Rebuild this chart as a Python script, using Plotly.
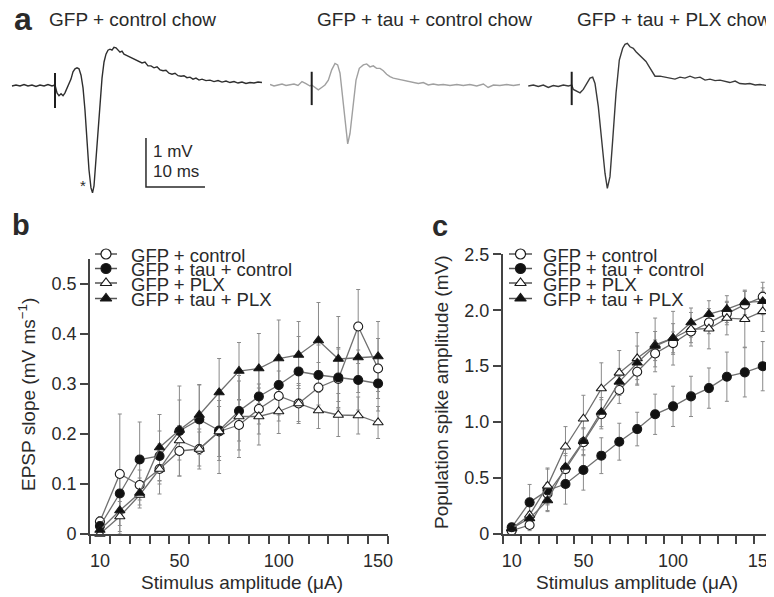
import plotly.graph_objects as go

# page is photographed with the browser's default 8px body margin, so the
# figure is sized to the remaining area and positions are given in page pixels
PAGE_W, PAGE_H, OFF = 774, 597, 8
W, H = PAGE_W - OFF, PAGE_H - OFF
FONT = "Liberation Sans, Arial, Helvetica, sans-serif"
TXT = "#2a2a2a"
AX = "#444444"

# ---------------- data ----------------
stim = [10, 20, 30, 40, 50, 60, 70, 80, 90, 100, 110, 120, 130, 140, 150]
xtick_labels = [10, 50, 100, 150]
series_names = ["GFP + control", "GFP + tau + control", "GFP + PLX", "GFP + tau + PLX"]

# panel b: EPSP slope (mV/ms)
b_ctrl = [0.025, 0.12, 0.098, 0.13, 0.166, 0.17, 0.205, 0.218, 0.25, 0.276, 0.261, 0.293, 0.31, 0.415, 0.331]
b_tau = [0.016, 0.081, 0.149, 0.156, 0.206, 0.229, 0.207, 0.246, 0.275, 0.298, 0.325, 0.318, 0.313, 0.308, 0.301]
b_plx = [0.0, 0.035, 0.078, 0.13, 0.187, 0.17, 0.205, 0.235, 0.235, 0.245, 0.261, 0.247, 0.238, 0.237, 0.223]
b_tauplx = [0.008, 0.047, 0.082, 0.173, 0.208, 0.238, 0.283, 0.326, 0.331, 0.351, 0.358, 0.387, 0.35, 0.353, 0.355]
b_ctrl_err = [0.01, 0.12, 0.03, 0.05, 0.05, 0.04, 0.05, 0.05, 0.05, 0.05, 0.04, 0.05, 0.06, 0.074, 0.06]
b_tau_err = [0.01, 0.04, 0.075, 0.05, 0.09, 0.07, 0.06, 0.06, 0.055, 0.06, 0.07, 0.06, 0.06, 0.06, 0.055]
b_plx_err = [0.005, 0.03, 0.02, 0.03, 0.03, 0.034, 0.084, 0.082, 0.057, 0.044, 0.036, 0.036, 0.043, 0.037, 0.032]
b_tauplx_err = [0.01, 0.03, 0.03, 0.066, 0.06, 0.06, 0.068, 0.057, 0.07, 0.077, 0.067, 0.076, 0.085, 0.07, 0.07]

# panel c: population spike amplitude (mV)
c_ctrl = [0.03, 0.08, 0.36, 0.58, 0.82, 1.07, 1.287, 1.45, 1.614, 1.706, 1.81, 1.89, 1.97, 2.05, 2.12]
c_tau = [0.06, 0.283, 0.39, 0.447, 0.572, 0.70, 0.825, 0.938, 1.07, 1.141, 1.23, 1.304, 1.406, 1.445, 1.50]
c_plx = [0.05, 0.17, 0.43, 0.78, 1.03, 1.30, 1.44, 1.57, 1.69, 1.75, 1.83, 1.835, 1.93, 1.92, 1.99]
c_tauplx = [0.05, 0.14, 0.30, 0.60, 0.83, 1.09, 1.36, 1.53, 1.68, 1.75, 1.89, 1.965, 2.01, 2.07, 2.08]
c_ctrl_err = [0.02, 0.05, 0.10, 0.12, 0.12, 0.13, 0.12, 0.12, 0.12, 0.10, 0.10, 0.10, 0.10, 0.12, 0.13]
c_tau_err = [0.03, 0.16, 0.19, 0.18, 0.18, 0.16, 0.165, 0.15, 0.18, 0.18, 0.18, 0.18, 0.22, 0.22, 0.22]
c_plx_err = [0.02, 0.08, 0.16, 0.18, 0.21, 0.23, 0.20, 0.23, 0.24, 0.24, 0.15, 0.18, 0.15, 0.25, 0.18]
c_tauplx_err = [0.02, 0.06, 0.09, 0.12, 0.12, 0.13, 0.12, 0.15, 0.13, 0.13, 0.13, 0.12, 0.12, 0.11, 0.12]

# panel a: example traces (time in ms from stimulus, voltage in mV)
t1 = [-7.29, -6.61, -5.93, -5.25, -4.58, -3.90, -3.22, -2.54, -1.86, -1.19, -0.51, 0.0,
      0.34, 0.68, 1.02, 1.36, 1.69, 2.03, 2.37, 2.71, 3.05, 3.39, 3.73, 4.07, 4.41, 4.75,
      5.08, 5.42, 5.76, 6.10, 6.36, 6.61, 6.95, 7.29, 7.63, 7.97,
      8.31, 8.64, 8.98, 9.32, 9.66, 10.0, 10.34, 10.68, 11.02, 11.36,
      11.69, 12.03, 12.37, 12.71, 13.22, 13.73, 14.24, 14.75, 15.25, 15.76,
      16.27, 16.78, 17.29, 17.80, 18.31, 18.81, 19.32, 19.83, 20.34, 20.85,
      21.36, 21.86, 22.37, 22.88, 23.39, 23.90, 24.41, 24.92, 25.59, 26.27,
      26.95, 27.63, 28.31, 28.98, 29.66, 30.34, 31.02, 31.69, 32.37, 33.05,
      33.73, 34.41, 35.08]
v1 = [-0.02, 0.0, -0.02, 0.01, -0.02, 0.0, -0.03, 0.0, -0.02, 0.01, -0.02, 0.0,
      -0.16, -0.22, -0.18, -0.22, -0.16, -0.06, 0.02, 0.12, 0.27, 0.33, 0.35, 0.33, 0.20, -0.06,
      -0.51, -1.12, -1.73, -2.10, -2.20, -2.06, -1.53, -0.92, -0.31, 0.14,
      0.47, 0.63, 0.71, 0.73, 0.71, 0.77, 0.76, 0.71, 0.67, 0.69,
      0.63, 0.61, 0.59, 0.57, 0.55, 0.51, 0.49, 0.45, 0.47, 0.39,
      0.39, 0.35, 0.37, 0.31, 0.29, 0.30, 0.24, 0.22, 0.24, 0.19,
      0.18, 0.19, 0.15, 0.16, 0.12, 0.14, 0.10, 0.12, 0.09, 0.10,
      0.07, 0.09, 0.06, 0.08, 0.05, 0.07, 0.04, 0.06, 0.03, 0.05,
      0.04, 0.06, 0.05]
t2 = [-7.07, -6.39, -5.71, -5.03, -4.36, -3.68, -3.0, -2.32, -1.64, -0.97, -0.29, 0.0,
      1.12, 1.69, 2.25, 2.82, 3.39, 3.95, 4.4, 4.8, 5.25, 5.64,
      6.1, 6.49, 6.94, 7.51, 8.07, 8.75, 9.32, 9.88, 10.44, 11.0,
      11.58, 12.14, 12.7, 13.27, 13.83, 14.68, 15.53, 16.37, 17.22, 18.07,
      18.92, 19.76, 20.6, 21.46, 22.3, 23.44, 24.6, 25.7, 26.8, 27.97,
      29.1, 29.9, 30.8, 31.9, 33.05, 34.2, 35.3]
v2 = [0.01, -0.02, 0.0, 0.02, -0.01, 0.0, 0.02, -0.01, 0.07, 0.03, -0.02, 0.0,
      -0.10, -0.05, 0.0, 0.10, 0.31, 0.44, 0.41, 0.24, -0.24, -0.78,
      -1.20, -0.99, -0.44, 0.10, 0.34, 0.41, 0.43, 0.37, 0.39, 0.34,
      0.34, 0.29, 0.22, 0.17, 0.14, 0.12, 0.09, 0.07, 0.05, 0.03,
      0.05, 0.0, 0.02, 0.0, 0.01, -0.01, 0.01, -0.01, 0.01, -0.02,
      0.02, -0.05, 0.0, -0.01, 0.01, -0.01, 0.01]
t3 = [-7.36, -6.5, -5.66, -4.81, -3.97, -3.12, -2.27, -1.42, -0.58, 0.0,
      0.28, 0.85, 1.41, 1.97, 2.54, 3.1, 3.56, 3.95, 4.51, 5.08,
      5.64, 6.04, 6.49, 6.95, 7.51, 8.07, 8.64, 9.03, 9.43, 9.88,
      10.44, 10.9, 11.46, 12.03, 12.59, 13.15, 13.73, 14.12, 14.97, 15.8,
      16.66, 17.5, 18.36, 19.2, 20.05, 20.9, 21.75, 22.6, 23.44, 24.3,
      25.14, 26.0, 26.8, 27.7, 28.5, 29.4, 30.2, 31.1, 31.9, 33.05, 34.2]
v3 = [-0.02, 0.0, -0.03, 0.0, -0.05, -0.01, -0.03, 0.0, -0.02, 0.0,
      -0.09, -0.12, -0.16, -0.09, 0.03, 0.14, 0.16, 0.03, -0.44, -1.12,
      -1.80, -2.11, -1.87, -1.12, -0.17, 0.51, 0.75, 0.83, 0.85, 0.78,
      0.75, 0.68, 0.61, 0.54, 0.48, 0.37, 0.27, 0.18, 0.18, 0.16,
      0.14, 0.12, 0.16, 0.14, 0.18, 0.14, 0.16, 0.10, 0.12, 0.09,
      0.10, 0.07, 0.05, 0.08, 0.03, 0.02, 0.03, 0.0, 0.01, -0.01, 0.01]
artifact_top = [0.245, 0.27, 0.27]
artifact_bottom = [-0.47, -0.41, -0.41]
trace_titles = ["GFP + control chow", "GFP + tau + control chow", "GFP + tau + PLX chow"]
scalebar_ms = 10
scalebar_mv = 1

# ---------------- helpers (page pixels -> paper fractions) ----------------
def fx(p):
    return (p - OFF) / W

def fy(p):
    return 1 - (p - OFF) / H

styles = {
    "GFP + control": dict(symbol="circle", color="white"),
    "GFP + tau + control": dict(symbol="circle", color="#111111"),
    "GFP + PLX": dict(symbol="triangle-up", color="white"),
    "GFP + tau + PLX": dict(symbol="triangle-up", color="#111111"),
}
msize = {"circle": 9, "triangle-up": 9}

fig = go.Figure()

def add_panel(xa, ya, vals, errs):
    for name, v, e in zip(series_names, vals, errs):
        fig.add_trace(go.Scatter(
            x=stim, y=v, mode="markers", xaxis=xa, yaxis=ya, showlegend=False,
            marker=dict(size=2, opacity=0), cliponaxis=False, hoverinfo="skip",
            error_y=dict(type="data", array=e, visible=True, color="#8a8a8a",
                         thickness=1, width=2)))
    for name, v in zip(series_names, vals):
        st = styles[name]
        fig.add_trace(go.Scatter(
            x=stim, y=v, mode="lines+markers", xaxis=xa, yaxis=ya, showlegend=False,
            name=name, cliponaxis=False,
            line=dict(color="#707070", width=1.3),
            marker=dict(symbol=st["symbol"], size=msize[st["symbol"]], color=st["color"],
                        line=dict(color="#1a1a1a", width=1.1))))

add_panel("x", "y", [b_ctrl, b_tau, b_plx, b_tauplx],
          [b_ctrl_err, b_tau_err, b_plx_err, b_tauplx_err])
add_panel("x2", "y2", [c_ctrl, c_tau, c_plx, c_tauplx],
          [c_ctrl_err, c_tau_err, c_plx_err, c_tauplx_err])

# panel a traces
trace_sets = [(t1, v1, "x3", "#2e2e2e"), (t2, v2, "x4", "#a0a0a0"), (t3, v3, "x5", "#3a3a3a")]
for i, (t, v, xa, col) in enumerate(trace_sets):
    fig.add_trace(go.Scatter(x=t, y=v, mode="lines", xaxis=xa, yaxis="y3", showlegend=False,
                             line=dict(color=col, width=1.4), hoverinfo="skip"))
    fig.add_trace(go.Scatter(x=[0, 0], y=[artifact_top[i], artifact_bottom[i]], mode="lines",
                             xaxis=xa, yaxis="y3", showlegend=False,
                             line=dict(color="#1e1e1e", width=2), hoverinfo="skip"))

# scale bar (in trace-1 units)
sb_t0, sb_v0 = 15.42, -1.08
fig.add_trace(go.Scatter(x=[sb_t0, sb_t0, sb_t0 + scalebar_ms],
                         y=[sb_v0, sb_v0 - scalebar_mv, sb_v0 - scalebar_mv],
                         mode="lines", xaxis="x3", yaxis="y3", showlegend=False,
                         line=dict(color="#2a2a2a", width=1.5), hoverinfo="skip"))

# manual legends on a full-figure overlay axis (page pixel units)
legend_rows = [254, 268.5, 283, 298.5]
for (lx0, lx1, lxm) in [(95, 117, 106), (509, 532, 520.5)]:
    for name, ry in zip(series_names, legend_rows):
        st = styles[name]
        fig.add_trace(go.Scatter(x=[lx0, lx1], y=[ry, ry], mode="lines", xaxis="x6", yaxis="y6",
                                 showlegend=False, line=dict(color="#555555", width=1.5),
                                 hoverinfo="skip"))
        fig.add_trace(go.Scatter(x=[lxm], y=[ry], mode="markers", xaxis="x6", yaxis="y6",
                                 showlegend=False, cliponaxis=False, hoverinfo="skip",
                                 marker=dict(symbol=st["symbol"], size=10, color=st["color"],
                                             line=dict(color="#1a1a1a", width=1.2))))

annotations = []
def txt(x, y, s, size=18, xanchor="left", yanchor="middle", bold=False, angle=0):
    annotations.append(dict(
        x=fx(x), y=fy(y), xref="paper", yref="paper", text=("<b>%s</b>" % s) if bold else s,
        showarrow=False, xanchor=xanchor, yanchor=yanchor, textangle=angle,
        font=dict(family=FONT, size=size, color=TXT)))

for lx in [129, 541]:
    for name, ry in zip(series_names, legend_rows):
        txt(lx, ry + 1, name, size=18.5)

# panel labels
txt(12, 19, "a", size=32, bold=True)
txt(10, 225, "b", size=29, bold=True)
txt(430, 226, "c", size=29, bold=True)

# trace titles
for title, xl in zip(trace_titles, [47, 315, 575]):
    txt(xl, 20, title, size=19)

# scale bar labels + asterisk
txt(151, 152, "%d mV" % scalebar_mv, size=17)
txt(151, 172, "%d ms" % scalebar_ms, size=17)
txt(83, 186, "*", size=15, xanchor="center")

# axis titles
txt(242, 582, "Stimulus amplitude (μA)", size=19, xanchor="center")
txt(637, 582, "Stimulus amplitude (μA)", size=19, xanchor="center")
txt(27, 395, "EPSP slope (mV ms<sup>−1</sup>)", size=19, xanchor="center", angle=-90)
txt(441, 392, "Population spike amplitude (mV)", size=19, xanchor="center", angle=-90)

tickfont = dict(family=FONT, size=18, color=TXT)
minor_vals = [5 + 10 * i for i in range(16)]

def xaxis_cfg(x0, x1, anchor):
    return dict(domain=[fx(x0), fx(x1)], range=[5, 155], anchor=anchor, automargin=False,
                showline=True, linecolor=AX, linewidth=1.8, showgrid=False, zeroline=False,
                tickmode="array", tickvals=xtick_labels, ticktext=[str(v) for v in xtick_labels],
                ticks="", tickfont=tickfont, ticklabelstandoff=9, fixedrange=True,
                ticklabeloverflow="allow",
                minor=dict(tickmode="array", tickvals=minor_vals, ticks="outside", ticklen=8,
                           tickcolor=AX, tickwidth=1.5, showgrid=False))

def yaxis_cfg(y_bottom_px, y_top_px, rng, tv, tt, anchor):
    return dict(domain=[fy(y_bottom_px), fy(y_top_px)], range=rng, anchor=anchor, automargin=False,
                showline=True, linecolor=AX, linewidth=1.8, showgrid=False, zeroline=False,
                tickmode="array", tickvals=tv, ticktext=tt, ticks="outside", ticklen=8,
                tickcolor=AX, tickwidth=1.5, tickfont=tickfont, fixedrange=True)

hidden = dict(visible=False, showgrid=False, zeroline=False, fixedrange=True, automargin=False)

# panel a axes: 5.9 px per ms, 49 px per mV
ms_px, mv_px = 5.9, 49.0
a_top, a_bot, a_base = 20, 212, 85
stims_px = [55, 311.7, 571.7]
spans = [(OFF, 270), (270, 520), (520, PAGE_W)]
a_axes = {}
for k, ((p0, p1), sp) in enumerate(zip(spans, stims_px)):
    a_axes["xaxis%d" % (k + 3)] = dict(hidden, domain=[fx(p0), fx(p1)],
                                       range=[(p0 - sp) / ms_px, (p1 - sp) / ms_px], anchor="y3")

fig.update_layout(
    width=W, height=H, autosize=False,
    margin=dict(l=0, r=0, t=0, b=0, pad=0, autoexpand=False),
    paper_bgcolor="white", plot_bgcolor="rgba(0,0,0,0)",
    showlegend=False,
    xaxis=xaxis_cfg(90, 388, "y"),
    yaxis=yaxis_cfg(534, 259, [0, 0.55], [0, 0.1, 0.2, 0.3, 0.4, 0.5],
                    ["0", "0.1", "0.2", "0.3", "0.4", "0.5"], "x"),
    xaxis2=xaxis_cfg(502.7, 771.7, "y2"),
    yaxis2=yaxis_cfg(534, 254.3, [0, 2.5], [0, 0.5, 1.0, 1.5, 2.0, 2.5],
                     ["0", "0.5", "1.0", "1.5", "2.0", "2.5"], "x2"),
    yaxis3=dict(hidden, domain=[fy(a_bot), fy(a_top)],
                range=[(a_base - a_bot) / mv_px, (a_base - a_top) / mv_px], anchor="x3"),
    xaxis6=dict(hidden, domain=[0, 1], range=[OFF, PAGE_W], anchor="y6"),
    yaxis6=dict(hidden, domain=[0, 1], range=[PAGE_H, OFF], anchor="x6"),
    annotations=annotations,
    **a_axes,
)

fig.write_html("out.html")
